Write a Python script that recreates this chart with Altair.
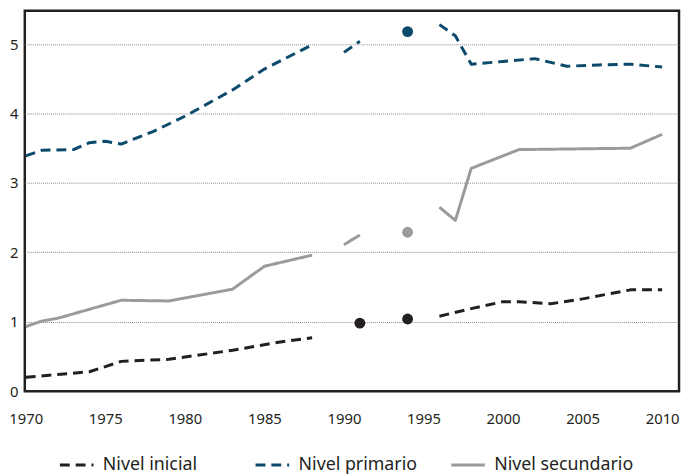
import altair as alt
import pandas as pd

series_names = ["Nivel inicial", "Nivel primario", "Nivel secundario"]
series_colors = ["#231f20", "#0b4a6b", "#9b9b9b"]

# Nivel inicial
years_ini_1 = [1970, 1972, 1974, 1976, 1979, 1983, 1986, 1988]
ini_1 = [0.20, 0.24, 0.28, 0.43, 0.46, 0.59, 0.71, 0.77]
years_ini_2 = [1996, 1998, 2000, 2001, 2003, 2005, 2008, 2010]
ini_2 = [1.08, 1.19, 1.29, 1.29, 1.26, 1.33, 1.46, 1.46]

# Nivel primario
years_pri_1 = [1970, 1971, 1973, 1974, 1975, 1976, 1978, 1980, 1983, 1985, 1988]
pri_1 = [3.39, 3.47, 3.48, 3.58, 3.60, 3.56, 3.74, 3.96, 4.34, 4.64, 4.99]
years_pri_2 = [1990, 1991]
pri_2 = [4.88, 5.04]
years_pri_3 = [1996, 1997, 1998, 2000, 2002, 2004, 2006, 2008, 2010]
pri_3 = [5.28, 5.12, 4.71, 4.75, 4.79, 4.68, 4.70, 4.71, 4.67]

# Nivel secundario
years_sec_1 = [1970, 1971, 1972, 1974, 1976, 1979, 1983, 1985, 1988]
sec_1 = [0.93, 1.01, 1.05, 1.18, 1.31, 1.30, 1.47, 1.80, 1.96]
years_sec_2 = [1990, 1991]
sec_2 = [2.11, 2.25]
years_sec_3 = [1996, 1997, 1998, 2001, 2008, 2010]
sec_3 = [2.65, 2.46, 3.21, 3.48, 3.50, 3.70]

# Isolated observations
dot_years = [1991, 1994, 1994, 1994]
dot_series = ["Nivel inicial", "Nivel inicial", "Nivel primario", "Nivel secundario"]
dot_values = [0.98, 1.04, 5.18, 2.29]

x_ticks = [1970, 1975, 1980, 1985, 1990, 1995, 2000, 2005, 2010]
y_ticks = [0, 1, 2, 3, 4, 5]

segments = [
    ("Nivel inicial", "ini1", years_ini_1, ini_1),
    ("Nivel inicial", "ini2", years_ini_2, ini_2),
    ("Nivel primario", "pri1", years_pri_1, pri_1),
    ("Nivel primario", "pri2", years_pri_2, pri_2),
    ("Nivel primario", "pri3", years_pri_3, pri_3),
    ("Nivel secundario", "sec1", years_sec_1, sec_1),
    ("Nivel secundario", "sec2", years_sec_2, sec_2),
    ("Nivel secundario", "sec3", years_sec_3, sec_3),
]
rows = []
for serie, tramo, ys, vs in segments:
    for y, v in zip(ys, vs):
        rows.append({"serie": serie, "tramo": tramo, "year": y, "value": v})
df = pd.DataFrame(rows)
dots = pd.DataFrame({"serie": dot_series, "year": dot_years, "value": dot_values})

FONT = "Noto Sans"
TXT = "#231f20"

xenc = alt.X("year:Q", scale=alt.Scale(domain=[1969.94, 2011.06], nice=False, zero=False),
             axis=alt.Axis(values=x_ticks, format="d", title=None, grid=False, ticks=False,
                           domain=False, labelPadding=21, labelFlush=False, labelFontSize=15,
                           labelFont=FONT, labelColor=TXT))
yenc = alt.Y("value:Q", scale=alt.Scale(domain=[0, 5.48], nice=False),
             axis=alt.Axis(values=y_ticks, format="d", title=None, ticks=False, domain=False,
                           labelPadding=7, labelFlush=False, labelFontSize=15, labelFont=FONT,
                           labelColor=TXT,
                           grid=True, gridColor="#8a8a8a", gridDash=[1, 1], gridWidth=1,
                           gridOpacity={"condition": {"test": "datum.value === 0", "value": 0}, "value": 1}))

leg = alt.Legend(title=None, orient="none", legendX=34, legendY=441, direction="horizontal",
                 symbolType="stroke", symbolSize=1156, symbolStrokeWidth=3,
                 labelFontSize=18, labelFont=FONT, labelColor=TXT, labelOffset=8,
                 gridAlign="all", columnPadding=7, padding=0)

color_scale = alt.Scale(domain=series_names, range=series_colors)
dash_scale = alt.Scale(domain=series_names, range=[[10, 6], [10, 6], [1, 0]])

lines = alt.Chart(df).mark_line(strokeCap="butt", strokeJoin="round").encode(
    x=xenc,
    y=yenc,
    color=alt.Color("serie:N", scale=color_scale, legend=leg),
    strokeDash=alt.StrokeDash("serie:N", scale=dash_scale, legend=leg),
    strokeWidth=alt.StrokeWidth("serie:N", scale=alt.Scale(domain=series_names, range=[3, 3, 2.5]), legend=None),
    detail="tramo:N",
    order="year:Q",
)

points = alt.Chart(dots).mark_circle(size=121, opacity=1).encode(
    x=alt.X("year:Q"),
    y=alt.Y("value:Q"),
    color=alt.Color("serie:N", scale=color_scale, legend=None),
)

chart = alt.layer(lines, points).properties(
    width=662, height=385,
    autosize=alt.AutoSizeParams(type="none"),
    padding={"left": 17, "top": 0, "right": 2, "bottom": 82},
).configure_view(stroke="#231f20", strokeWidth=2.5)

chart.save("out.html", embed_options={"renderer": "svg", "actions": False})
